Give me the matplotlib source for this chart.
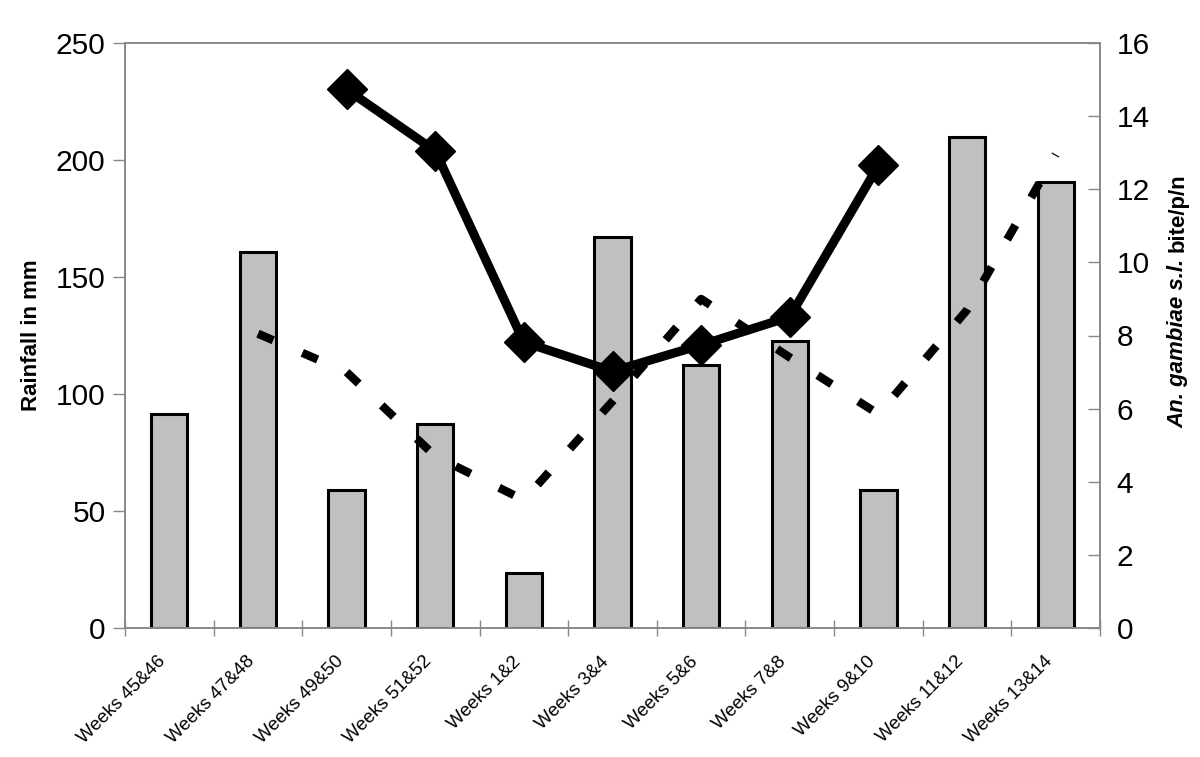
import numpy as np
import matplotlib
matplotlib.use("Agg")
import matplotlib.pyplot as plt
import matplotlib.transforms as mtransforms

plt.rcParams['font.family'] = ['Liberation Sans', 'DejaVu Sans']

# data
weeks = ['Weeks 45&46', 'Weeks 47&48', 'Weeks 49&50', 'Weeks 51&52', 'Weeks 1&2',
         'Weeks 3&4', 'Weeks 5&6', 'Weeks 7&8', 'Weeks 9&10', 'Weeks 11&12', 'Weeks 13&14']
rainfall = [91.5, 160.5, 59, 87, 23.7, 167, 112.5, 122.5, 59, 210, 190.7]
# solid line (bites per person per night), starts at Weeks 49&50, ends at Weeks 9&10
bites_solid = [np.nan, np.nan, 14.73, 13.05, 7.82, 7.02, 7.74, 8.51, 12.65, np.nan, np.nan]
# dashed line, Weeks 47&48 to Weeks 13&14
bites_dashed = [np.nan, 8.05, 7.0, 4.7, 3.5, 6.2, 9.0, 7.4, 5.85, 8.7, 12.95]

x = np.arange(len(weeks))
gray = '#888888'

fig = plt.figure(figsize=(12, 7.57), dpi=100)
ax = fig.add_axes([125/1200, 1-628/757, 975/1200, 585/757])
ax2 = ax.twinx()

ax.bar(x, rainfall, width=0.41, color='#c0c0c0', edgecolor='black', linewidth=2.2, zorder=2)
ax.set_xlim(-0.5, len(weeks) - 0.5)
ax.set_ylim(0, 250)
ax.set_yticks([0, 50, 100, 150, 200, 250])

ax2.plot(x, bites_dashed, color='black', linewidth=6, linestyle=(0, (2.0, 3.8)),
         dash_capstyle='butt', zorder=3)
ax2.plot(x, bites_solid, color='black', linewidth=6.5, marker='D', markersize=20, zorder=4)
ax2.set_ylim(0, 16)
ax2.set_yticks(range(0, 17, 2))

# category boundaries get the tick marks, labels sit at the centres
ax.set_xticks(np.arange(-0.5, len(weeks)), labels=[''] * (len(weeks) + 1))
ax.set_xticks(x, labels=weeks, minor=True)
ax.tick_params(axis='x', which='major', direction='inout', length=12, color=gray, width=1)
ax.tick_params(axis='x', which='minor', length=0, pad=18, labelsize=13.5)
shift = mtransforms.ScaledTranslation(-12/100, 0, fig.dpi_scale_trans)
for lbl in ax.get_xticklabels(minor=True):
    lbl.set_rotation(45)
    lbl.set_ha('right')
    lbl.set_va('top')
    lbl.set_rotation_mode('anchor')
    lbl.set_transform(lbl.get_transform() + shift)

ax.tick_params(axis='y', direction='out', length=9, color=gray, width=1, labelsize=21.5, pad=5)
ax2.tick_params(axis='y', direction='in', length=9, color=gray, width=1, labelsize=21.5, pad=12)

for a in (ax, ax2):
    for s in a.spines.values():
        s.set_color(gray)
        s.set_linewidth(1.2)

ax.set_ylabel('Rainfall in mm', fontsize=16, fontweight='bold', labelpad=10)

t1 = fig.text(1178/1200, 1-428/757, 'An. gambiae s.l.', rotation=90, fontsize=16,
              fontweight='bold', fontstyle='italic', ha='center', va='bottom')
ax2.annotate('bite/p/n', xy=(0.5, 1), xycoords=t1, xytext=(0, 5), textcoords='offset points',
             rotation=90, fontsize=16, fontweight='bold', ha='center', va='bottom',
             annotation_clip=False)

fig.savefig('out.png', dpi=100)
